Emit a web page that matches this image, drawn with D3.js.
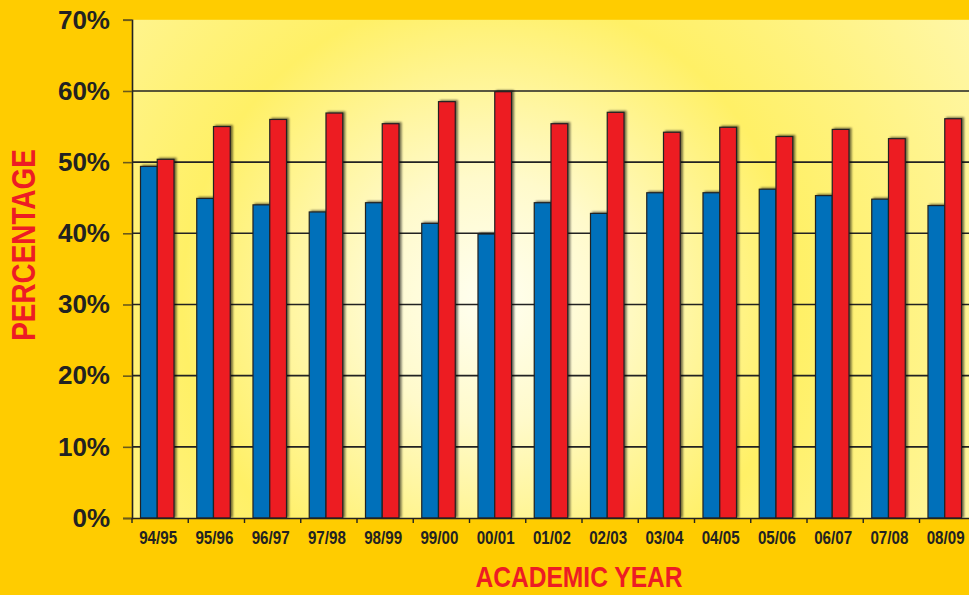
<!DOCTYPE html>
<html>
<head>
<meta charset="utf-8">
<title>Academic year percentages</title>
<script src="https://d3js.org/d3.v7.min.js"></script>
<style>
body { margin: 0; background: #FFCC00; }
svg { display: block; }
</style>
</head>
<body>
<div id="chart"></div>
<script type="text/javascript">

var years = ["94/95", "95/96", "96/97", "97/98", "98/99", "99/00", "00/01", "01/02",
             "02/03", "03/04", "04/05", "05/06", "06/07", "07/08", "08/09"];
var blueValues = [49.4, 44.9, 44.0, 43.0, 44.3, 41.4, 39.9, 44.3, 42.8, 45.7, 45.7, 46.2, 45.3, 44.8, 43.9];
var redValues  = [50.4, 55.0, 56.0, 56.9, 55.4, 58.5, 59.9, 55.4, 57.0, 54.2, 54.9, 53.6, 54.6, 53.3, 56.1];
var yTicks = [0, 10, 20, 30, 40, 50, 60, 70];

var width = 969, height = 595;
var plotLeft = 132, plotTop = 19.8, plotBottom = 518, plotRight = 975.75;
var narrow = 0.82; // squeeze for the condensed look

var svg = d3.select("#chart").append("svg")
  .attr("width", width).attr("height", height);

var defs = svg.append("defs");
var grad = defs.append("radialGradient").attr("id", "glow")
  .attr("gradientUnits", "userSpaceOnUse")
  .attr("cx", 490).attr("cy", 300).attr("r", 560);
grad.append("stop").attr("offset", "0").attr("stop-color", "#FFFFF2");
grad.append("stop").attr("offset", "0.22").attr("stop-color", "#FFFACB");
grad.append("stop").attr("offset", "0.55").attr("stop-color", "#FFF066");
grad.append("stop").attr("offset", "1").attr("stop-color", "#FFF7A8");

var shadow = defs.append("filter").attr("id", "shadow")
  .attr("x", "-30%").attr("y", "-10%").attr("width", "160%").attr("height", "120%");
shadow.append("feGaussianBlur").attr("in", "SourceAlpha").attr("stdDeviation", 1).attr("result", "b");
shadow.append("feOffset").attr("in", "b").attr("dx", 1.5).attr("dy", -1).attr("result", "o");
shadow.append("feComponentTransfer").attr("in", "o").attr("result", "s")
  .append("feFuncA").attr("type", "linear").attr("slope", 0.55);
var merge = shadow.append("feMerge");
merge.append("feMergeNode").attr("in", "s");
merge.append("feMergeNode").attr("in", "SourceGraphic");

svg.append("rect").attr("width", width).attr("height", height).attr("fill", "#FFCC00");

var x0 = d3.scaleBand().domain(years).range([plotLeft, plotRight]);
var x1 = d3.scaleBand().domain(["blue", "red"]).range([8.5, 42]);
var y = d3.scaleLinear().domain([0, 70]).range([plotBottom, plotTop]);

// plot area
svg.append("rect")
  .attr("x", plotLeft).attr("y", plotTop)
  .attr("width", plotRight - plotLeft).attr("height", plotBottom - plotTop)
  .attr("fill", "url(#glow)");

// gridlines
svg.append("g").selectAll("line")
  .data(yTicks.filter(function(d) { return d > 0 && d < 70; }))
  .enter().append("line")
  .attr("x1", plotLeft).attr("x2", plotRight)
  .attr("y1", function(d) { return y(d); }).attr("y2", function(d) { return y(d); })
  .attr("stroke", "#222").attr("stroke-width", 1.6);

// bars
var rows = years.map(function(c, i) {
  return { year: c, vals: [{ k: "blue", v: blueValues[i] }, { k: "red", v: redValues[i] }] };
});
var colors = { blue: "#0070BA", red: "#ED1C24" };

var groups = svg.append("g").selectAll("g").data(rows).enter().append("g")
  .attr("transform", function(d) { return "translate(" + x0(d.year) + ",0)"; });

groups.selectAll("rect").data(function(d) { return d.vals; })
  .enter().append("rect")
  .attr("x", function(d) { return x1(d.k); })
  .attr("width", x1.bandwidth())
  .attr("y", function(d) { return y(d.v); })
  .attr("height", function(d) { return plotBottom - y(d.v); })
  .attr("fill", function(d) { return colors[d.k]; })
  .attr("stroke", "#222").attr("stroke-width", 1.2)
  .attr("filter", "url(#shadow)");

// y axis
var yAxis = svg.append("g").attr("transform", "translate(" + plotLeft + ",0)")
  .call(d3.axisLeft(y).tickValues(yTicks).tickSize(9).tickPadding(13)
    .tickFormat(function(d) { return d + "%"; }));
yAxis.select(".domain").attr("stroke", "#222").attr("stroke-width", 1.6);
yAxis.selectAll(".tick line").attr("stroke", "#6b5a1a").attr("stroke-width", 1.6);
yAxis.selectAll(".tick text")
  .attr("fill", "#222")
  .style("font-family", "'Liberation Sans', Arial, sans-serif")
  .style("font-weight", "bold").style("font-size", "26px");

// x axis
var xAxis = svg.append("g").attr("transform", "translate(0," + plotBottom + ")")
  .call(d3.axisBottom(x0).tickSize(0).tickPadding(13));
xAxis.select(".domain").attr("stroke", "#222").attr("stroke-width", 1.6);
xAxis.selectAll(".tick text")
  .attr("fill", "#222")
  .attr("transform", "translate(-2,0) scale(" + narrow + ",1)")
  .style("font-family", "'Liberation Sans', Arial, sans-serif")
  .style("font-weight", "bold").style("font-size", "18.5px");

// x ticks at band boundaries
xAxis.append("g").selectAll("line")
  .data(years)
  .enter().append("line")
  .attr("x1", function(d) { return x0(d); }).attr("x2", function(d) { return x0(d); })
  .attr("y1", 0).attr("y2", 5)
  .attr("stroke", "#222").attr("stroke-width", 1.4);

// axis titles
svg.append("text")
  .attr("transform", "translate(579,587) scale(" + narrow + ",1)")
  .attr("text-anchor", "middle")
  .attr("fill", "#ED1C24")
  .style("font-family", "'Liberation Sans', Arial, sans-serif")
  .style("font-weight", "bold").style("font-size", "30px")
  .text("ACADEMIC YEAR");

svg.append("text")
  .attr("transform", "translate(35,245) rotate(-90) scale(" + narrow + ",1)")
  .attr("text-anchor", "middle")
  .attr("fill", "#ED1C24")
  .style("font-family", "'Liberation Sans', Arial, sans-serif")
  .style("font-weight", "bold").style("font-size", "34px")
  .text("PERCENTAGE");

</script>
</body>
</html>
